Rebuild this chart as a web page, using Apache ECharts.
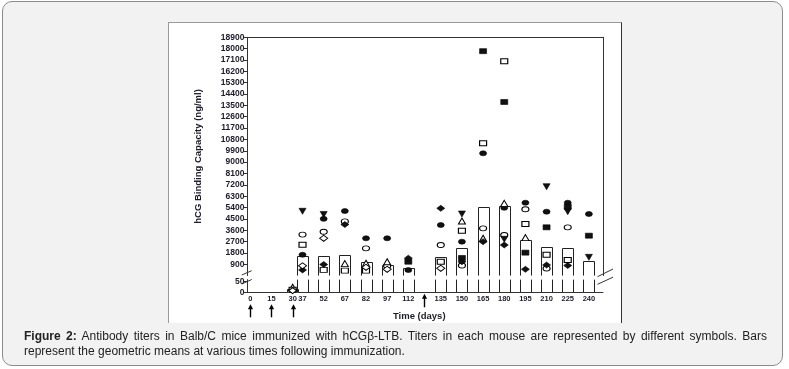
<!DOCTYPE html>
<html><head><meta charset="utf-8">
<script src="https://cdn.jsdelivr.net/npm/echarts@6/dist/echarts.min.js"></script>
<style>
html,body{margin:0;padding:0;background:#fff;width:789px;height:369px;overflow:hidden;font-family:"Liberation Sans",Arial,sans-serif;}
#box{position:absolute;left:2px;top:1px;width:779px;height:363px;border:1px solid #8c8c8c;border-radius:10px;background:#f2f2f2;}
#panel{position:absolute;left:168px;top:22px;width:452px;height:300px;background:#fff;border-top:1px solid #9a9a9a;border-left:1px solid #9a9a9a;border-right:1px solid #333;}
#chart{position:absolute;left:0;top:0;width:789px;height:369px;}
#cap{position:absolute;left:24px;top:329px;width:743px;font-size:12px;line-height:15px;color:#222;}
#cap .l1{display:block;text-align:justify;text-align-last:justify;}
</style></head>
<body>
<div id="box"></div>
<div id="panel"></div>
<div id="chart"></div>
<div id="cap"><span class="l1"><b>Figure 2:</b> Antibody titers in Balb/C mice immunized with hCGβ-LTB. Titers in each mouse are represented by different symbols. Bars</span>represent the geometric means at various times following immunization.</div>
<script>
// ---- data ----
const xTickDays = [0, 15, 30, 37, 52, 67, 82, 97, 112, 135, 150, 165, 180, 195, 210, 225, 240];
const yTicksUpper = [900,1800,2700,3600,4500,5400,6300,7200,8100,9000,9900,10800,11700,12600,13500,14400,15300,16200,17100,18000,18900];
const yTicksLower = [0, 50];
const immunizationDays = [0, 15, 30];
const boosterDays = [123];

const days          = [30,   37,   52,   67,   82,   97,   112,  135,  150,  165,   180,   195,  210,  225,  240];
const geoMean       = [14,   1560, 1580, 1660, 1055, 850,  600,  1475, 2165, 5460,  5520,  2820, 2290, 2165, 1160];
const filledCircle  = [null, 1650, 4500, 5120, 2960, 2960, 440,  4010, 2690, 9700,  5380,  5780, 5070, 5780, 4885];
const openCircle    = [10,   3250, 3480, 4300, 2160, 760,  null, 2430, 800,  3750,  3220,  5260, 560,  3830, null];
const filledDownTri = [null, 5100, 4850, null, null, null, null, null, 4885, null,  2880,  null, 7050, 5070, 1450];
const openTri       = [24,   null, null, 950,  980,  1100, null, null, 4330, 2960,  5730,  3010, null, null, null];
const filledSquare  = [null, null, null, null, null, null, 1100, null, 1400, 17800, 13770, 1820, 3830, 5460, 3165];
const openSquare    = [12,   2450, 450,  400,  400,  null, null, 1100, 3560, 10500, 17000, 4090, 1650, 1240, null];
const filledDiamond = [null, 450,  880,  4050, null, null, 1380, 5335, 1100, 2690,  2430,  500,  840,  800,  null];
const openDiamond   = [8,    780,  2960, null, 660,  500,  null, 580,  null, null,  null,  null, null, null, null];

// ---- styling / layout ----
const X_MIN = -2, X_MAX = 250, UP_MAX = 18900, LOW_MAX = 60;
const INK = '#222', FRAME = '#333', LABEL = '#1c1c2c';
const BAR_W = 11;
const FONT = '"Liberation Sans", Arial, sans-serif';

const markerDefs = [
  {vals: filledCircle,  symbol: 'circle',   size: [7,5], fill: '#111', rot: 0},
  {vals: openCircle,    symbol: 'circle',   size: [7,5], fill: '#fff', rot: 0},
  {vals: filledDownTri, symbol: 'triangle', size: [7,6], fill: '#111', rot: 180},
  {vals: openTri,       symbol: 'triangle', size: [7,6], fill: '#fff', rot: 0},
  {vals: filledSquare,  symbol: 'rect',     size: [7,5], fill: '#111', rot: 0},
  {vals: openSquare,    symbol: 'rect',     size: [7,5], fill: '#fff', rot: 0},
  {vals: filledDiamond, symbol: 'diamond',  size: [8,6], fill: '#111', rot: 0},
  {vals: openDiamond,   symbol: 'diamond',  size: [8,6], fill: '#fff', rot: 0}
];

const barData = days.map((d, i) => [d, geoMean[i]]);

function barUpper(params, api) {
  const d = api.value(0), v = api.value(1);
  if (v <= LOW_MAX) return null;
  const top = api.coord([d, v]), base = api.coord([d, 0]);
  const x0 = Math.round(top[0] - BAR_W / 2) + 0.5, x1 = x0 + BAR_W;
  const yt = Math.round(top[1]) + 0.5;
  return {type: 'polyline', shape: {points: [[x0, base[1]], [x0, yt], [x1, yt], [x1, base[1]]]},
          style: {stroke: INK, fill: '#fff', lineWidth: 1}};
}
function barLower(params, api) {
  const d = api.value(0), v = api.value(1);
  const base = api.coord([d, 0]);
  const top = api.coord([d, Math.min(v, LOW_MAX)]);
  const x0 = Math.round(top[0] - BAR_W / 2) + 0.5, x1 = x0 + BAR_W;
  if (v > LOW_MAX) {
    return {type: 'group', children: [
      {type: 'line', shape: {x1: x0, y1: base[1], x2: x0, y2: top[1]}, style: {stroke: INK, lineWidth: 1}},
      {type: 'line', shape: {x1: x1, y1: base[1], x2: x1, y2: top[1]}, style: {stroke: INK, lineWidth: 1}}
    ]};
  }
  const yt = Math.round(top[1]) + 0.5;
  return {type: 'polyline', shape: {points: [[x0, base[1]], [x0, yt], [x1, yt], [x1, base[1]]]},
          style: {stroke: INK, fill: '#fff', lineWidth: 1}};
}
function arrowRenderer(y0off, y1off) {
  return function (params, api) {
    const p = api.coord([api.value(0), 0]);
    const x = Math.round(p[0]) + 0.5, yTop = p[1] + y0off, yBot = p[1] + y1off;
    return {type: 'group', children: [
      {type: 'line', shape: {x1: x, y1: yTop + 3, x2: x, y2: yBot}, style: {stroke: '#000', lineWidth: 1.4}},
      {type: 'polygon', shape: {points: [[x, yTop], [x - 2.6, yTop + 5], [x + 2.6, yTop + 5]]}, style: {fill: '#000'}}
    ]};
  };
}

const series = [
  {type: 'custom', xAxisIndex: 0, yAxisIndex: 0, data: barData, renderItem: barUpper, z: 2, clip: false},
  {type: 'custom', xAxisIndex: 1, yAxisIndex: 1, data: barData, renderItem: barLower, z: 2, clip: false},
  {type: 'custom', xAxisIndex: 1, yAxisIndex: 1, data: immunizationDays.map(d => [d, 0]), renderItem: arrowRenderer(12, 25), z: 2, clip: false},
  {type: 'custom', xAxisIndex: 1, yAxisIndex: 1, data: boosterDays.map(d => [d, 0]), renderItem: arrowRenderer(1.5, 15), z: 2, clip: false}
];
markerDefs.forEach(m => {
  const up = [], low = [];
  days.forEach((d, i) => {
    const v = m.vals[i];
    if (v == null) return;
    (v > LOW_MAX ? up : low).push([d, v]);
  });
  const common = {type: 'scatter', symbol: m.symbol, symbolSize: m.size, symbolRotate: m.rot, z: 3, clip: false,
    itemStyle: {color: m.fill, borderColor: '#000', borderWidth: m.fill === '#fff' ? 1 : 0.6, opacity: 1},
    emphasis: {disabled: true}};
  series.push(Object.assign({}, common, {xAxisIndex: 0, yAxisIndex: 0, data: up}));
  series.push(Object.assign({}, common, {xAxisIndex: 1, yAxisIndex: 1, data: low}));
});

const plain = v => String(v);
const labelStyle = {fontSize: 8.5, fontWeight: 'bold', color: LABEL, fontFamily: FONT, formatter: plain};
const option = {
  animation: false,
  grid: [
    {left: 247.5, top: 37.3, width: 355.5, height: 238.3},
    {left: 247.5, top: 279.6, width: 355.5, height: 12.7}
  ],
  xAxis: [
    {gridIndex: 0, type: 'value', min: X_MIN, max: X_MAX, position: 'top',
     axisLine: {show: true, onZero: false, lineStyle: {color: FRAME}}, axisTick: {show: false},
     axisLabel: {show: false}, splitLine: {show: false}},
    {gridIndex: 1, type: 'value', min: X_MIN, max: X_MAX, position: 'bottom',
     axisLine: {show: true, onZero: false, lineStyle: {color: FRAME}}, axisTick: {show: false}, splitLine: {show: false},
     axisLabel: {customValues: xTickDays, margin: 3, fontSize: 7.5, fontWeight: 'bold', color: LABEL, fontFamily: FONT, formatter: plain},
     name: 'Time (days)', nameLocation: 'middle', nameGap: 19,
     nameTextStyle: {fontSize: 9.5, fontWeight: 'bold', color: LABEL, fontFamily: FONT, padding: [0, 12, 0, 0]}}
  ],
  yAxis: [
    {gridIndex: 0, type: 'value', min: 0, max: UP_MAX,
     axisLine: {show: true, onZero: false, lineStyle: {color: FRAME}},
     axisTick: {show: true, length: 4, customValues: yTicksUpper, lineStyle: {color: FRAME}},
     axisLabel: Object.assign({customValues: yTicksUpper, margin: 3}, labelStyle), splitLine: {show: false},
     name: 'hCG Binding Capacity (ng/ml)', nameLocation: 'middle', nameGap: 44,
     nameTextStyle: {fontSize: 9.5, fontWeight: 'bold', color: LABEL, fontFamily: FONT}},
    {gridIndex: 1, type: 'value', min: 0, max: LOW_MAX,
     axisLine: {show: true, onZero: false, lineStyle: {color: FRAME}},
     axisTick: {show: true, length: 4, customValues: yTicksLower, lineStyle: {color: FRAME}},
     axisLabel: Object.assign({customValues: yTicksLower, margin: 3}, labelStyle), splitLine: {show: false}},
    {gridIndex: 0, type: 'value', min: 0, max: UP_MAX, position: 'right',
     axisLine: {show: true, onZero: false, lineStyle: {color: FRAME}}, axisTick: {show: false},
     axisLabel: {show: false}, splitLine: {show: false}}
  ],
  graphic: [
    {type: 'line', shape: {x1: 241.7, y1: 275, x2: 251.7, y2: 270.7}, style: {stroke: FRAME, lineWidth: 1}},
    {type: 'line', shape: {x1: 241.7, y1: 284, x2: 251.7, y2: 279.5}, style: {stroke: FRAME, lineWidth: 1}},
    {type: 'line', shape: {x1: 597.5, y1: 276.7, x2: 613, y2: 269}, style: {stroke: FRAME, lineWidth: 1}},
    {type: 'line', shape: {x1: 597.5, y1: 284.3, x2: 613, y2: 277.2}, style: {stroke: FRAME, lineWidth: 1}}
  ],
  series: series
};
const chart = echarts.init(document.getElementById('chart'));
chart.setOption(option);
</script>
</body></html>
